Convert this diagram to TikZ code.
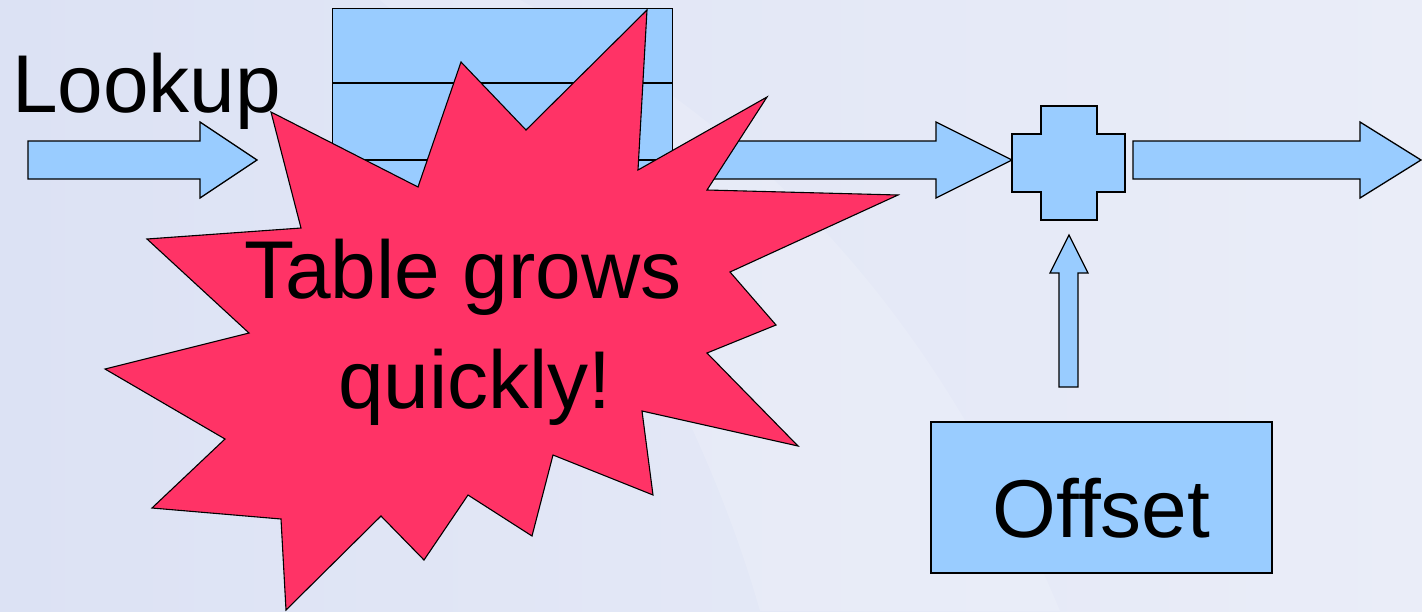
\documentclass[tikz,border=0pt]{standalone}
\usepackage{fontspec}
\setmainfont{Liberation Sans}
\usepackage{xcolor}
\usepackage{tikz}
\usetikzlibrary{positioning}

\definecolor{boxblue}{HTML}{99CCFF}
\definecolor{burstred}{HTML}{FF3366}
\definecolor{bgleft}{HTML}{DCE2F4}
\definecolor{bgright}{HTML}{EAEDF8}

\begin{document}
\begin{tikzpicture}[x=1pt,y=-1pt,
    blockshape/.style={draw=black,fill=boxblue,line width=1.3pt,line join=miter},
    burst/.style={draw=black,fill=burstred,line width=1.1pt,line join=miter},
    big/.style={font=\fontsize{82}{110}\selectfont,inner sep=0pt}]
    \useasboundingbox (0,0) rectangle (1422,611);
    \shade[left color=bgleft,right color=bgright] (0,0) rectangle (1422,611);
    \fill[white,opacity=0.15] (520,0) .. controls (800,150) and (950,350) .. (1060,611) -- (760,611) .. controls (700,400) and (560,150) .. (380,0) -- cycle;

    % table
    \node[blockshape,anchor=north west,minimum width=340pt,minimum height=228pt] (table) at (332,8) {};
    \draw[line width=1.3pt] (332,83) -- (672,83);
    \draw[line width=1.3pt] (332,160) -- (672,160);

    % arrows
    \draw[blockshape] (28,141) -- (200,141) -- (200,122) -- (257,160) -- (200,198) -- (200,179) -- (28,179) -- cycle;
    \draw[blockshape] (700,141) -- (936,141) -- (936,122) -- (1012,160) -- (936,198) -- (936,179) -- (700,179) -- cycle;

    \node[big,anchor=base west] (lookup) at (12,112) {Lookup};

    % burst
    \draw[burst] (647,10) -- (638,170) -- (767,97) -- (707,190) -- (898,195) -- (730,272)
        -- (776,325) -- (707,353) -- (798,446) -- (642,411) -- (653,495) -- (553,455)
        -- (532,536) -- (468,495) -- (424,560) -- (381,516) -- (286,610) -- (281,519)
        -- (152,508) -- (225,439) -- (105,369) -- (249,333) -- (147,239) -- (301,228)
        -- (271,112) -- (418,187) -- (461,62) -- (526,130) -- cycle;
    \node[big,anchor=base] (grows) at (463,298) {Table grows};
    \node[big,anchor=base] (quickly) at (475,408) {quickly!};

    % adder
    \draw[blockshape] (1041,106) -- (1097,106) -- (1097,134) -- (1125,134) -- (1125,192) -- (1097,192)
        -- (1097,220) -- (1041,220) -- (1041,192) -- (1012,192) -- (1012,134) -- (1041,134) -- cycle;
    \draw[blockshape] (1133,141) -- (1360,141) -- (1360,122) -- (1421,160) -- (1360,198) -- (1360,179) -- (1133,179) -- cycle;
    \draw[blockshape] (1059,387) -- (1059,273) -- (1050,273) -- (1069,235) -- (1088,273) -- (1078,273) -- (1078,387) -- cycle;

    \node[blockshape,big,minimum width=341pt,minimum height=151pt,text height=79pt,text depth=0pt] (offset) at (1101.5,497.5) {Offset};
\end{tikzpicture}
\end{document}
